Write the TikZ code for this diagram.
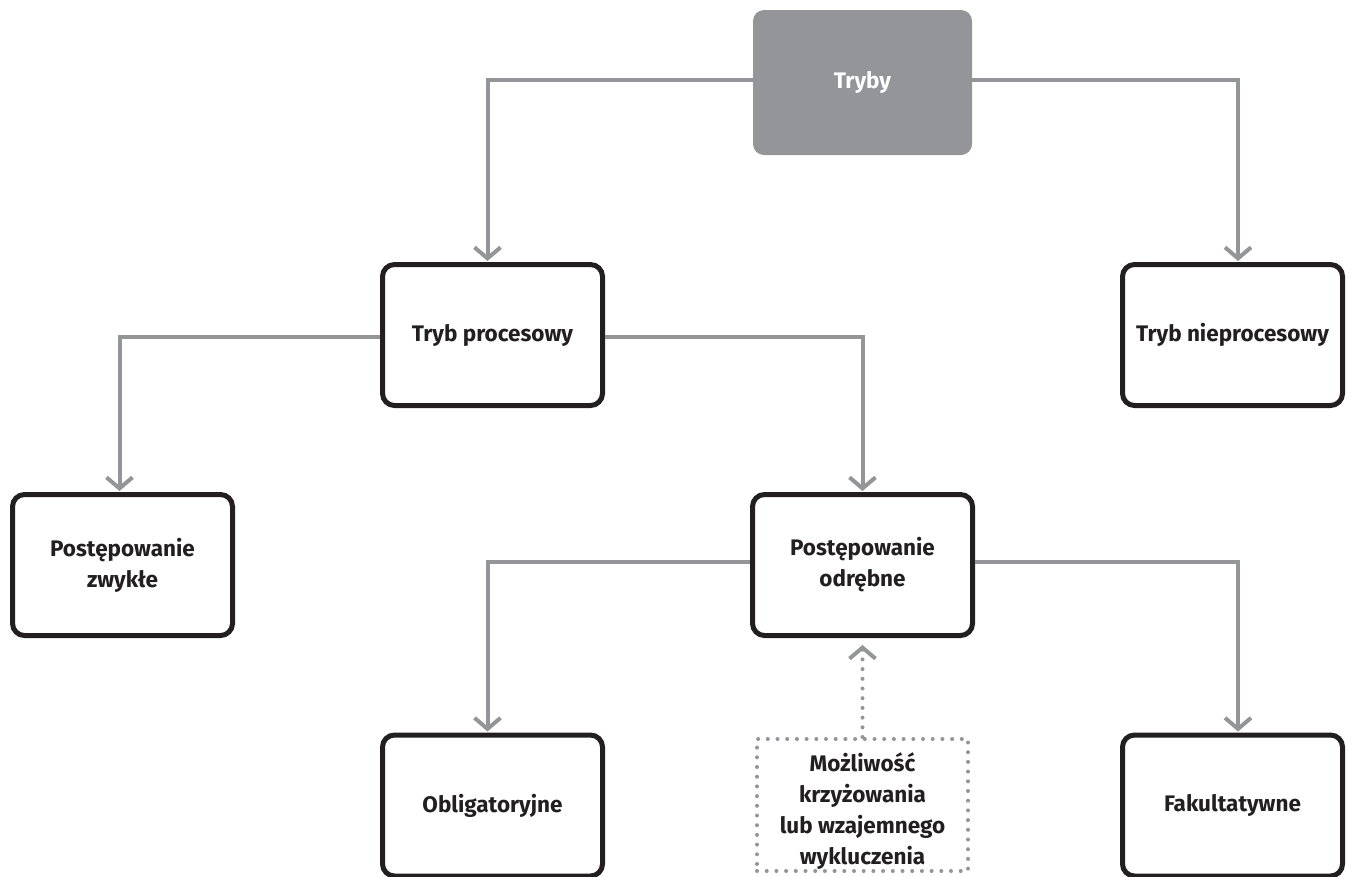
\documentclass[tikz,border=0pt]{standalone}
\usepackage{fontspec}
\setmainfont{Fira Sans}
\usetikzlibrary{arrows.meta,calc}
\definecolor{conn}{HTML}{939598}
\definecolor{ink}{HTML}{231F20}
\tikzset{
  txt/.style={align=center, text=ink, font=\fontsize{22.5}{31}\selectfont\bfseries},
  box/.style={txt, draw=ink, line width=5pt, rounded corners=12pt, fill=white,
    minimum width=220pt, minimum height=141pt, inner sep=0pt},
  topbox/.style={fill=conn, rounded corners=11pt, minimum width=219pt, minimum height=145pt,
    inner sep=0pt, text=white, font=\fontsize{22.5}{31}\selectfont\bfseries},
  dotbox/.style={draw=conn, line width=4pt, dash pattern=on 0pt off 9.7pt, line cap=round,
    minimum width=211pt, minimum height=132pt, inner sep=0pt},
  conn/.style={draw=conn, line width=4pt, -{Straight Barb[length=11pt,width=26pt]}, shorten >=1pt},
  dotconn/.style={draw=conn, line width=4pt, dash pattern=on 0pt off 9.7pt, line cap=round,
    -{Straight Barb[length=11pt,width=26pt,line cap=butt]}, shorten >=7pt},
}
\begin{document}
\begin{tikzpicture}[x=1pt,y=-1pt]
\useasboundingbox (0,0) rectangle (1352,876);
\node[topbox] (tryby) at (862.5,82.5) {Tryby};
\node[box] (tp) at (492.5,335) {Tryb procesowy};
\node[box] (tn) at (1232.5,335) {Tryb nieprocesowy};
\node[box] (pz) at (122.5,565) {Postępowanie\\zwykłe};
\node[box] (po) at (862.5,565) {Postępowanie\\odrębne};
\node[box] (ob) at (492.5,805.5) {Obligatoryjne};
\node[box] (fa) at (1232.5,805.5) {Fakultatywne};
\node[dotbox] (mo) at (862.5,805) {};
\node[txt, inner sep=0pt] (motext) at (862.5,811) {Możliwość\\krzyżowania\\lub wzajemnego\\wykluczenia};

\draw[conn] ([yshift=3pt]tryby.west) -| ([xshift=-5pt]tp.north);
\draw[conn] ([yshift=3pt]tryby.east) -| ([xshift=5.5pt]tn.north);
\draw[conn] ([yshift=-2pt]tp.west) -| ([xshift=-3pt]pz.north);
\draw[conn] ([yshift=-2pt]tp.east) -| (po.north);
\draw[conn] ([yshift=3pt]po.west) -| ([xshift=-5pt]ob.north);
\draw[conn] ([yshift=3pt]po.east) -| ([xshift=5.5pt]fa.north);
\draw[dotconn] (mo.north) -- (po.south);
\end{tikzpicture}
\end{document}
